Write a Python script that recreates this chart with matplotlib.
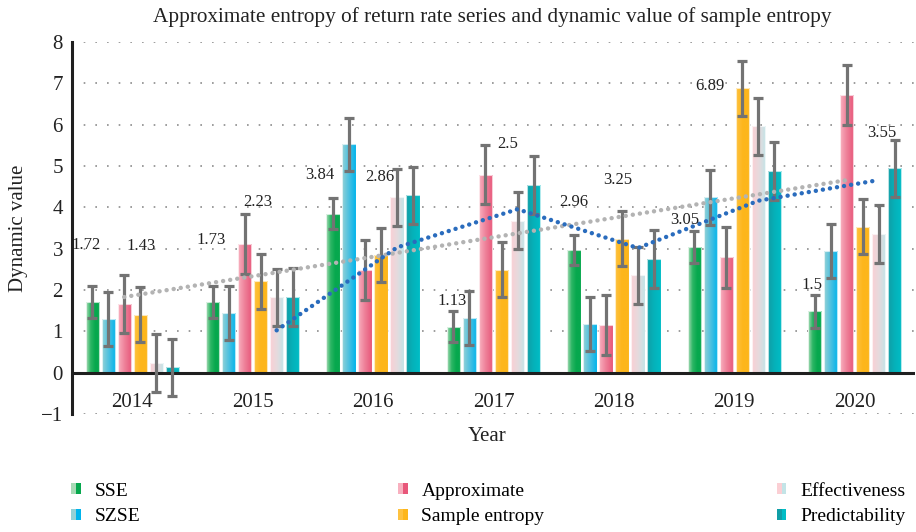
import numpy as np
from matplotlib import pyplot as plt
from matplotlib.colors import LinearSegmentedColormap
from matplotlib.patches import Patch
from matplotlib.legend_handler import HandlerTuple

# --------------------------- Data ---------------------------

years = ['2014', '2015', '2016', '2017', '2018', '2019', '2020']
names = ['SSE', 'SZSE', 'Approximate', 'Sample entropy', 'Effectiveness', 'Predictability']

sse = [1.71, 1.71, 3.85, 1.11, 2.97, 3.04, 1.48]
szse = [1.30, 1.44, 5.52, 1.33, 1.18, 4.24, 2.94]
approximate = [1.66, 3.11, 2.49, 4.79, 1.15, 2.79, 6.72]
sample = [1.40, 2.21, 2.85, 2.49, 3.24, 6.88, 3.53]
effectiveness = [0.23, 1.82, 4.24, 3.67, 2.36, 5.96, 3.36]
predictability = [0.13, 1.83, 4.29, 4.54, 2.75, 4.88, 4.95]

sse_err = [0.39, 0.38, 0.38, 0.37, 0.37, 0.39, 0.39]
szse_err = [0.65, 0.66, 0.65, 0.65, 0.65, 0.66, 0.65]
approximate_err = [0.71, 0.73, 0.72, 0.72, 0.72, 0.73, 0.72]
sample_err = [0.67, 0.67, 0.66, 0.66, 0.67, 0.67, 0.66]
effectiveness_err = [0.70, 0.69, 0.69, 0.69, 0.69, 0.69, 0.70]
predictability_err = [0.69, 0.69, 0.69, 0.69, 0.69, 0.70, 0.69]

# numbers written on the chart
sse_labels = [1.72, 1.73, 3.84, 1.13, 2.96, 3.05, 1.5]
sample_labels = [1.43, 2.23, 2.86, 2.5, 3.25, 6.89, 3.55]

# ------------------------- Styling --------------------------

values = [sse, szse, approximate, sample, effectiveness, predictability]
errors = [sse_err, szse_err, approximate_err, sample_err, effectiveness_err, predictability_err]
gradients = [['#a8dab6', '#2cb664', '#07a84e', '#07a84e'],
             ['#93d1d6', '#4cc0e0', '#00b4ec'],
             ['#f8b0bf', '#ee7f98', '#e8577a'],
             ['#fec240', '#fdb61b', '#fdb61b'],
             ['#fbcfd4', '#e6dadd', '#c3e4e7'],
             ['#109ea6', '#05b2ba', '#00bdc6']]

# label placement (x offset from the group centre, y in data units)
sse_lbl_dx = [-0.386, -0.349, -0.444, -0.344, -0.336, -0.411, -0.353]
sse_lbl_y = [3.10, 3.22, 4.77, 1.73, 4.13, 3.70, 2.13]
sample_lbl_dx = [0.071, 0.041, 0.054, 0.116, 0.033, -0.203, 0.224]
sample_lbl_y = [3.07, 4.13, 4.74, 5.52, 4.67, 6.94, 5.80]

serif = 'Liberation Serif'
plt.rcParams['font.family'] = [serif, 'DejaVu Serif']

pitch = 0.133
width = 0.11
idx = np.arange(len(years))
offsets = (np.arange(len(names)) - 2.5) * pitch


def gradient_bars(ax, bars, colors):
    # paint each bar with a left-to-right gradient clipped to the bar
    cmap = LinearSegmentedColormap.from_list('grad', colors)
    grad = np.linspace(0, 1, 64).reshape(1, -1)
    for b in bars:
        x0, y0 = b.get_x(), b.get_y()
        w, h = b.get_width(), b.get_height()
        im = ax.imshow(grad, cmap=cmap, extent=(x0, x0 + w, y0, y0 + h),
                       aspect='auto', zorder=2, interpolation='bilinear')
        im.set_clip_path(b)
        b.set_facecolor('none')


# --------------------------- Plot ---------------------------

fig = plt.figure(figsize=(9.16, 5.32), dpi=100)
ax = fig.add_axes([0.0786, 0.2218, 0.9203, 0.6993])

for i in range(len(names)):
    bars = ax.bar(idx + offsets[i], values[i], width, edgecolor=(1, 1, 1, 0.7),
                  linewidth=0.8, zorder=2.1)
    gradient_bars(ax, bars, gradients[i])
    ax.errorbar(idx + offsets[i], values[i], yerr=errors[i], fmt='none',
                ecolor='#737373', elinewidth=2.3, capsize=3.8, capthick=2.3, zorder=4)

# linear trend of the approximate series
k, b0 = np.polyfit(idx, approximate, 1)
ax.plot(idx + offsets[2], k * idx + b0, color='#b3b3b3', lw=3.2,
        ls=(0, (0.01, 1.6)), dash_capstyle='round', zorder=5)

# 2-period moving average of effectiveness
eff = np.array(effectiveness)
ma = (eff[1:] + eff[:-1]) / 2
ax.plot(idx[1:] + offsets[4], ma, color='#2a6cbd', lw=3.2,
        ls=(0, (0.01, 1.6)), dash_capstyle='round', zorder=5)

for j in range(len(years)):
    ax.text(j + sse_lbl_dx[j], sse_lbl_y[j], f'{sse_labels[j]:g}', ha='center',
            va='center', fontsize=12, color='#222222', zorder=6)
    ax.text(j + sample_lbl_dx[j], sample_lbl_y[j], f'{sample_labels[j]:g}', ha='center',
            va='center', fontsize=12, color='#222222', zorder=6)

ax.set_xlim(-0.5, 6.5)
ax.set_ylim(-1, 8)
ax.set_yticks(range(-1, 9))
ax.set_yticklabels(['\u22121'] + [str(v) for v in range(0, 9)])
ax.set_xticks(idx)
ax.set_xticklabels(years)
ax.tick_params(axis='y', length=0, pad=6.5, labelsize=15, colors='#222222')
ax.tick_params(axis='x', length=0, pad=-15, labelsize=15, colors='#222222')

for y in [-1, 1, 2, 3, 4, 5, 6, 7, 8]:
    ax.axhline(y, color='#8c8c8c', lw=1.2, ls=(0, (1, 6)), zorder=1)
ax.axhline(0, color='#1f1f1f', lw=2.2, zorder=3)

for s in ['top', 'right', 'bottom']:
    ax.spines[s].set_visible(False)
ax.spines['left'].set_linewidth(2.2)
ax.spines['left'].set_color('#1f1f1f')

fig.text(0.5377, 1 - 17 / 532, 'Approximate entropy of return rate series and dynamic value of sample entropy',
         ha='center', va='center', fontsize=15.3, color='#222222')
fig.text(0.0197, 0.5714, 'Dynamic value', rotation=90, ha='center', va='center',
         fontsize=15, color='#222222')
fig.text(0.532, 0.1786, 'Year', ha='center', va='center', fontsize=15, color='#222222')

# legend: three columns of two entries, gradient squares
handles = []
for c in gradients:
    handles.append((Patch(facecolor=c[0], edgecolor='none'),
                    Patch(facecolor=c[-1], edgecolor='none')))
col_x = [0.0775, 0.4345, 0.848]
for col in range(3):
    ax.figure.legend(handles[2 * col:2 * col + 2], names[2 * col:2 * col + 2],
                     handler_map={tuple: HandlerTuple(ndivide=None, pad=0)},
                     loc='upper left', bbox_to_anchor=(col_x[col], 0.093),
                     frameon=False, fontsize=14, handlelength=0.5, handleheight=0.5,
                     handletextpad=0.7, labelspacing=0.45, borderpad=0, borderaxespad=0)

fig.savefig('out.png', dpi=100)
